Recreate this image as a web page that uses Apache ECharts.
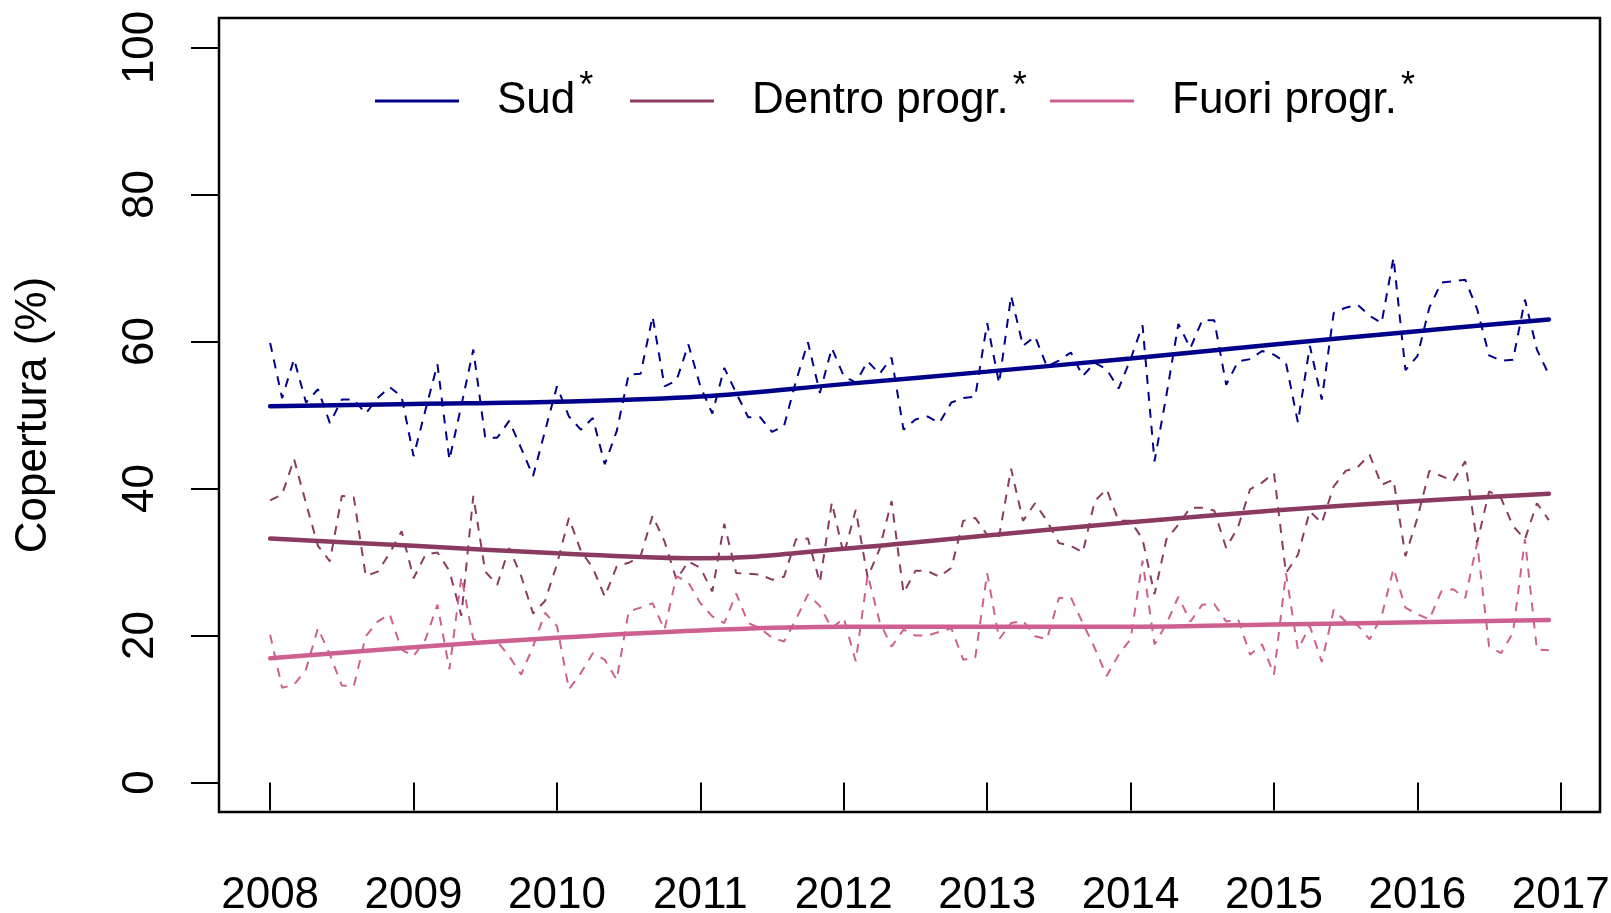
<!DOCTYPE html>
<html>
<head>
<meta charset="utf-8">
<script src="https://cdn.jsdelivr.net/npm/echarts@6/dist/echarts.min.js"></script>
<style>
  html, body { margin: 0; padding: 0; background: #fff; }
  #chart { width: 1611px; height: 913px; }
</style>
</head>
<body>
<div id="chart"></div>
<script>
  // monthly series, Jan 2008 .. Dec 2016
  const startYear = 2008;
  const yearTicks = [2008, 2009, 2010, 2011, 2012, 2013, 2014, 2015, 2016, 2017];
  const percentTicks = [0, 20, 40, 60, 80, 100];

  const sud = [
    59.8, 52.3, 57.6, 51.7, 53.5, 48.9, 52.1, 52.1, 50.2, 52.3, 53.8, 52.5,
    44.4, 50.7, 56.9, 43.9, 51.3, 58.9, 46.9, 46.9, 49.2, 45.5, 41.7, 47.8,
    53.9, 49.8, 48.0, 49.6, 43.3, 47.8, 55.5, 55.6, 63.4, 53.9, 54.7, 59.6,
    53.9, 50.2, 56.4, 53.0, 49.7, 49.7, 47.7, 48.5, 54.6, 59.9, 53.0, 59.1,
    55.3, 54.4, 57.3, 55.6, 57.8, 48.0, 49.4, 49.8, 48.9, 51.7, 52.3, 52.5,
    62.5, 54.3, 66.2, 59.4, 60.7, 56.6, 57.4, 58.5, 55.3, 57.1, 56.2, 53.6,
    57.6, 62.2, 43.7, 52.7, 62.4, 59.1, 62.9, 62.9, 54.1, 57.3, 57.6, 58.7,
    58.2, 57.1, 49.0, 59.4, 52.1, 63.9, 64.6, 65.0, 63.5, 62.5, 71.4, 56.1,
    58.0, 64.6, 68.0, 68.2, 68.4, 64.4, 58.1, 57.4, 57.5, 65.7, 58.9, 55.5
  ];
  const dentro = [
    38.4, 39.2, 44.0, 38.0, 32.2, 30.1, 39.0, 38.8, 28.1, 28.7, 31.2, 34.2,
    27.8, 31.0, 31.3, 28.8, 22.7, 39.0, 28.7, 26.9, 31.9, 28.1, 23.0, 24.7,
    29.7, 36.0, 31.5, 29.2, 25.3, 29.4, 29.9, 30.8, 36.3, 32.8, 27.6, 30.1,
    29.2, 26.0, 35.2, 28.5, 28.4, 28.3, 27.6, 28.0, 33.1, 33.2, 27.2, 38.1,
    31.0, 37.1, 27.9, 31.8, 38.3, 25.8, 28.8, 28.8, 28.0, 29.2, 35.6, 36.0,
    33.7, 33.5, 42.7, 35.6, 38.0, 35.6, 32.6, 32.2, 31.3, 38.3, 39.9, 35.6,
    35.6, 33.1, 25.6, 33.1, 35.1, 37.4, 37.4, 37.0, 31.9, 34.8, 39.9, 40.8,
    42.1, 28.5, 31.0, 36.9, 35.3, 40.3, 42.4, 42.9, 44.6, 40.5, 41.2, 30.8,
    36.0, 42.4, 41.7, 41.0, 43.7, 32.6, 39.6, 38.7, 34.9, 33.1, 38.0, 35.7
  ];
  const fuori = [
    20.1, 12.9, 13.3, 15.4, 21.0, 17.4, 13.2, 13.1, 19.9, 21.9, 22.9, 18.1,
    17.2, 19.5, 24.2, 15.4, 28.0, 19.5, 19.2, 19.2, 17.2, 14.7, 18.5, 23.1,
    21.3, 12.7, 14.9, 17.6, 16.7, 14.0, 23.3, 23.8, 24.4, 20.8, 28.1, 27.2,
    24.4, 22.6, 21.7, 25.7, 21.7, 21.0, 19.7, 19.2, 22.2, 25.6, 24.0, 21.0,
    22.4, 16.5, 28.3, 21.9, 18.5, 20.8, 20.0, 20.0, 20.5, 21.0, 16.7, 17.0,
    28.5, 19.5, 21.7, 22.0, 19.9, 19.5, 25.1, 25.2, 21.7, 18.3, 14.5, 17.4,
    19.5, 30.2, 18.8, 21.6, 25.3, 21.9, 24.2, 24.3, 21.9, 22.2, 17.4, 18.8,
    14.7, 28.5, 18.1, 21.3, 16.4, 23.5, 21.9, 21.4, 19.5, 22.6, 29.1, 23.8,
    22.9, 22.2, 26.0, 26.3, 25.1, 32.6, 18.5, 17.6, 20.4, 33.1, 18.1, 18.0
  ];

  // smoothed trends, read at each January (+ last month)
  const trendYears = [2008, 2009, 2010, 2011, 2012, 2013, 2014, 2015, 2016, 2016.917];
  const sudTrend = [51.2, 51.5, 51.8, 52.5, 54.2, 55.9, 57.7, 59.6, 61.4, 63.0];
  const dentroTrend = [33.2, 32.2, 31.2, 30.5, 31.8, 33.6, 35.4, 37.0, 38.3, 39.3];
  const fuoriTrend = [16.9, 18.4, 19.7, 20.7, 21.2, 21.2, 21.2, 21.5, 21.8, 22.1];

  const colors = { sud: '#00008B', dentro: '#8B3A62', fuori: '#CD6090' };
  const font = '"Liberation Sans", Arial, Helvetica, sans-serif';

  const months = sud.map((_, i) => startYear + i / 12);
  const pair = (xs, ys) => ys.map((v, i) => [xs[i], v]);

  // R-style axis range: data range extended by 4% each side
  const xFirst = months[0], xLast = months[months.length - 1];
  const xPad = (xLast - xFirst) * 0.04;
  const yPad = 100 * 0.04;

  const dashed = (name, data, color) => ({
    name: name + '_m', type: 'line', data, showSymbol: false, silent: true,
    lineStyle: { color, width: 2, type: [9, 8] }, itemStyle: { color }
  });
  const trend = (name, data, color) => ({
    name, type: 'line', data, showSymbol: false, smooth: 0.4, silent: true,
    lineStyle: { color, width: 4.5, cap: 'round' }, itemStyle: { color }
  });

  // one legend per entry so each can sit where R put it
  const legendAt = (name, left) => ({
    data: [name], left, top: 69, padding: 0, icon: 'rect', itemWidth: 84, itemHeight: 3,
    selectedMode: false,
    formatter: n => '{n|' + n + '}{s|*}',
    textStyle: {
      rich: {
        n: { fontSize: 44, fontFamily: font, color: '#000', padding: [10, 0, 10, 33] },
        s: { fontSize: 36, fontFamily: font, color: '#000', verticalAlign: 'top', padding: [0, 0, 0, 4] }
      }
    }
  });

  const chart = echarts.init(document.getElementById('chart'));
  chart.setOption({
    animation: false,
    backgroundColor: '#fff',
    grid: {
      left: 219, right: 11, top: 18, bottom: 101, outerBoundsMode: 'none',
      show: true, borderColor: '#000', borderWidth: 2.5, backgroundColor: 'transparent'
    },
    legend: [
      legendAt('Sud', 375),
      legendAt('Dentro progr.', 630),
      legendAt('Fuori progr.', 1050)
    ],
    xAxis: {
      type: 'value', min: xFirst - xPad, max: xLast + xPad,
      splitLine: { show: false }, axisLine: { show: false },
      axisTick: { show: true, inside: false, length: 28, customValues: yearTicks,
        lineStyle: { color: '#000', width: 2 } },
      axisLabel: { customValues: yearTicks, formatter: v => String(Math.round(v)),
        fontSize: 44, fontFamily: font, color: '#000', margin: 62 }
    },
    yAxis: {
      type: 'value', min: -yPad, max: 100 + yPad,
      name: 'Copertura (%)', nameLocation: 'middle', nameRotate: 90, nameGap: 163,
      nameTextStyle: { fontSize: 44, fontFamily: font, color: '#000' },
      splitLine: { show: false }, axisLine: { show: false },
      axisTick: { show: true, inside: false, length: 28, customValues: percentTicks,
        lineStyle: { color: '#000', width: 2 } },
      axisLabel: { customValues: percentTicks, rotate: 90, formatter: v => String(Math.round(v)),
        fontSize: 44, fontFamily: font, color: '#000', margin: 56 }
    },
    series: [
      dashed('Sud', pair(months, sud), colors.sud),
      dashed('Dentro progr.', pair(months, dentro), colors.dentro),
      dashed('Fuori progr.', pair(months, fuori), colors.fuori),
      trend('Sud', pair(trendYears, sudTrend), colors.sud),
      trend('Dentro progr.', pair(trendYears, dentroTrend), colors.dentro),
      trend('Fuori progr.', pair(trendYears, fuoriTrend), colors.fuori)
    ]
  });
</script>
</body>
</html>
